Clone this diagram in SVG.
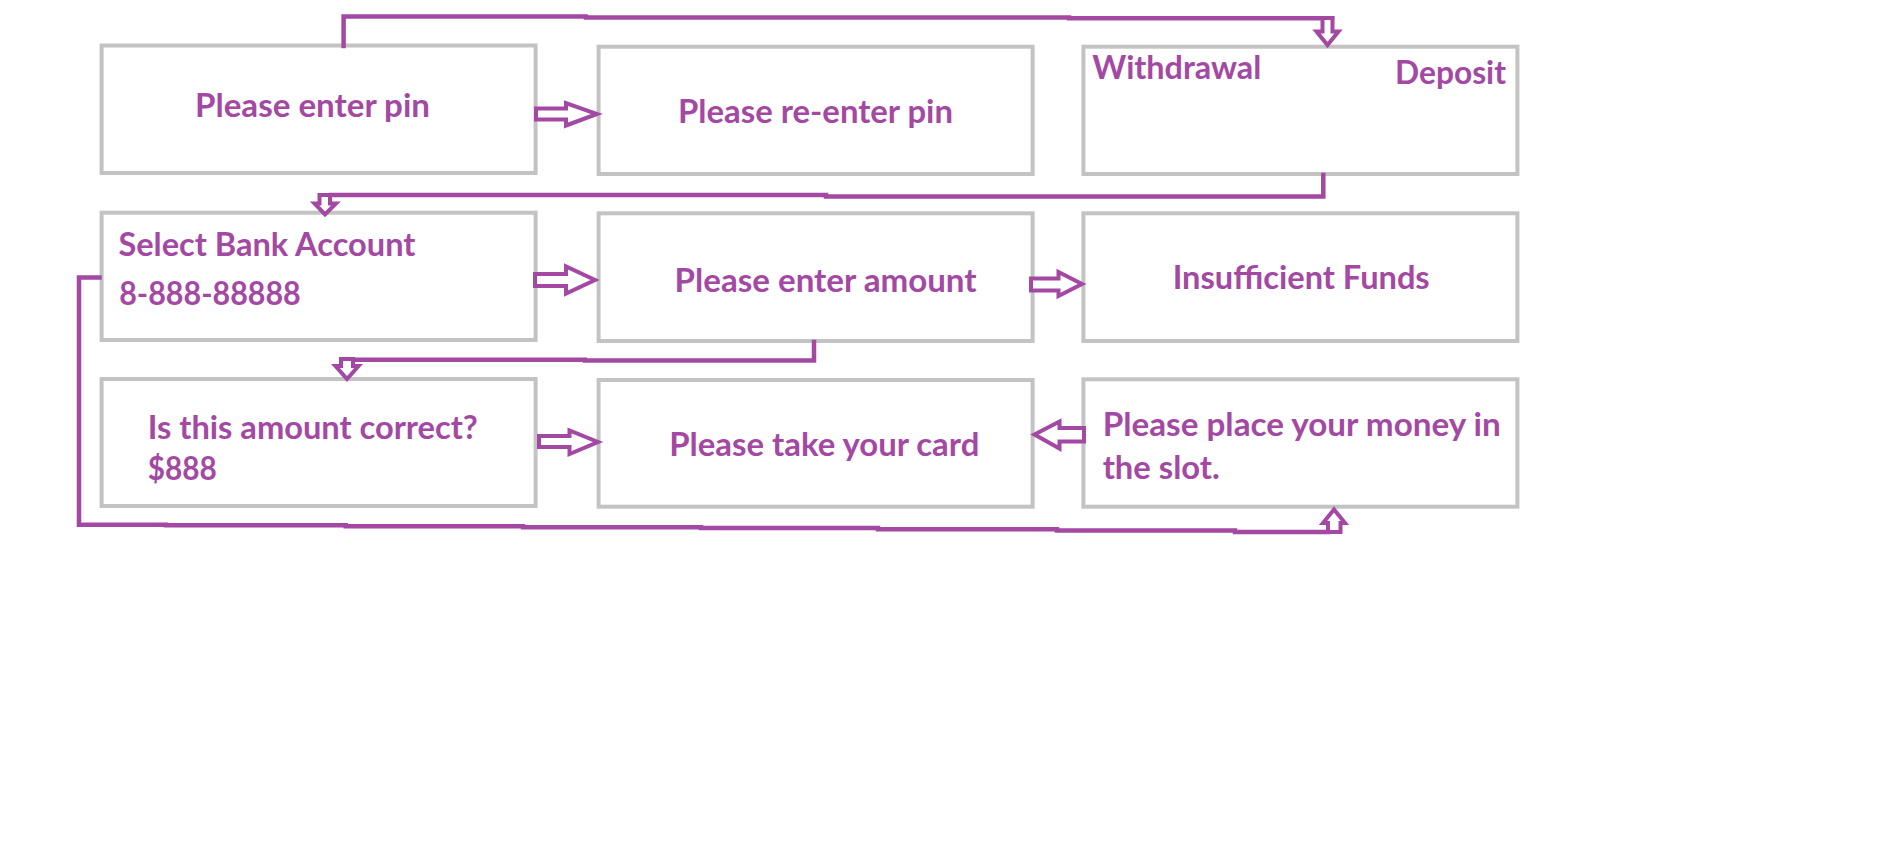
<svg xmlns="http://www.w3.org/2000/svg" width="1896" height="865" viewBox="0 0 1896 865">
<style>
.box{fill:#ffffff;stroke:#C3C3C3;stroke-width:4}
.t{font-family:Lato,"Liberation Sans",sans-serif;font-weight:700;font-size:33px;fill:#A349A4}
.ln{fill:none;stroke:#A349A4;stroke-width:4.5;stroke-linejoin:miter;stroke-linecap:square}
.ar{fill:#ffffff;stroke:#A349A4;stroke-width:4;stroke-linejoin:miter}
</style>
<rect width="1896" height="865" fill="#ffffff"/>
<g id="node-enter-pin"><rect class="box" x="101.6" y="45.5" width="434" height="127.5"/><text class="t" x="195" y="117" textLength="235" lengthAdjust="spacingAndGlyphs">Please enter pin</text></g>
<g id="node-reenter-pin"><rect class="box" x="598.6" y="46.7" width="434" height="127.3"/><text class="t" x="678" y="122.7" textLength="275" lengthAdjust="spacingAndGlyphs">Please re-enter pin</text></g>
<g id="node-withdrawal-deposit"><rect class="box" x="1083.4" y="46.7" width="434" height="127.3"/><text class="t" x="1092.3" y="79.3" textLength="169" lengthAdjust="spacingAndGlyphs">Withdrawal</text><text class="t" x="1395" y="83.7" textLength="111" lengthAdjust="spacingAndGlyphs">Deposit</text></g>
<g id="node-select-account"><rect class="box" x="101.6" y="212.7" width="434" height="127.3"/><text class="t" x="118.4" y="256" textLength="297" lengthAdjust="spacingAndGlyphs">Select Bank Account</text><text class="t" x="119.2" y="305.3" textLength="181.6" lengthAdjust="spacingAndGlyphs">8-888-88888</text></g>
<g id="node-enter-amount"><rect class="box" x="598.6" y="213.3" width="434" height="127.7"/><text class="t" x="674.6" y="292" textLength="302" lengthAdjust="spacingAndGlyphs">Please enter amount</text></g>
<g id="node-insufficient"><rect class="box" x="1083.4" y="213.3" width="434" height="127.7"/><text class="t" x="1172.7" y="288.7" textLength="257" lengthAdjust="spacingAndGlyphs">Insufficient Funds</text></g>
<g id="node-amount-correct"><rect class="box" x="101.6" y="379" width="434" height="127"/><text class="t" x="147.8" y="439.3" textLength="330" lengthAdjust="spacingAndGlyphs">Is this amount correct?</text><text class="t" x="147.8" y="480.3" textLength="69" lengthAdjust="spacingAndGlyphs">$888</text></g>
<g id="node-take-card"><rect class="box" x="598.6" y="380" width="434" height="126.7"/><text class="t" x="669.3" y="456" textLength="310" lengthAdjust="spacingAndGlyphs">Please take your card</text></g>
<g id="node-place-money"><rect class="box" x="1083.4" y="379.3" width="434" height="127.4"/><text class="t" x="1102.7" y="436" textLength="398" lengthAdjust="spacingAndGlyphs">Please place your money in</text><text class="t" x="1102.7" y="478.7" textLength="117" lengthAdjust="spacingAndGlyphs">the slot.</text></g>
<g id="connectors">
<path class="ln" d="M343.6,46 V16.5 H586 V17.5 H1069 V18.3 H1332"/>
<polygon class="ar" points="1322.5,18 1332.5,18 1332.5,31.5 1338.5,31.5 1327.5,45 1316.5,31.5 1322.5,31.5"/>
<polygon class="ar" points="536,108.5 566,108.5 566,103 597,114 566,125.5 566,119.5 536,119.5"/>
<path class="ln" d="M1323.3,175 V196.5 H826 V195 H331"/>
<polygon class="ar" points="319.5,195 330,195 330,203.5 336,203.5 325,214.5 314.5,203.5 319.5,203.5"/>
<polygon class="ar" points="535,274 566,274 566,266.5 595,280 566,293.5 566,286 535,286"/>
<polygon class="ar" points="1031,278.5 1058.5,278.5 1058.5,272 1082,284 1058.5,296 1058.5,290.5 1031,290.5"/>
<path class="ln" d="M814,342 V360.5 H585 V359.7 H353"/>
<polygon class="ar" points="341,359 353,359 353,366 358.5,366 347,379 335.5,366 341,366"/>
<polygon class="ar" points="539,436 569.5,436 569.5,430.5 598,442 569.5,454 569.5,447 539,447"/>
<polygon class="ar" points="1034.5,434.5 1059.5,421.5 1059.5,428 1084,428 1084,441.5 1059.5,441.5 1059.5,448.5"/>
<path class="ln" d="M99.5,277.5 H79 V524.7 H166 V525.3 H345.7 V526.3 H523 V527.3 H701 V528 H878 V529.3 H1057 V530.5 H1235 V532 H1328"/>
<polygon class="ar" points="1328,532 1340.5,532 1340.5,523 1345,523 1334,509.5 1323,523 1328,523"/>
</g>
</svg>
